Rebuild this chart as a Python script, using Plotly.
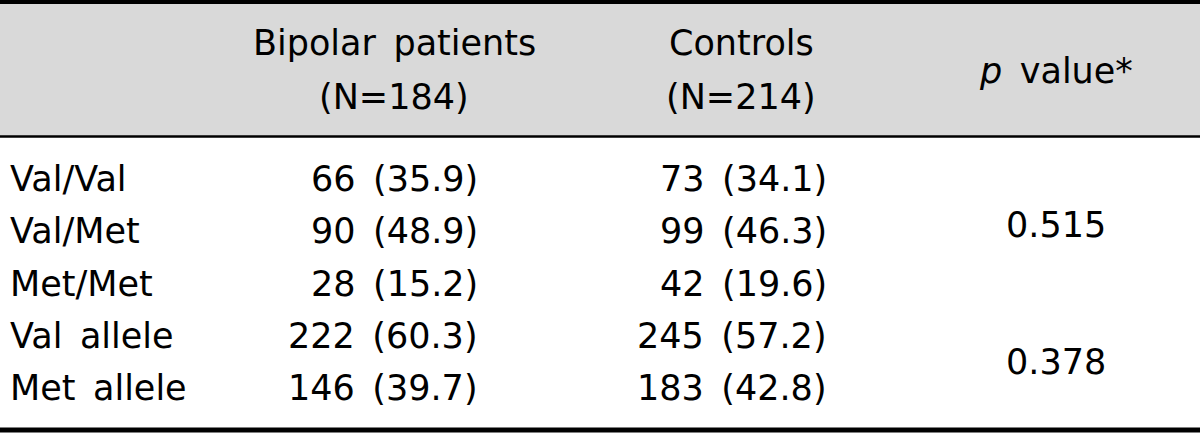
import plotly.graph_objects as go

# ---- data ----
genotypes = ["Val/Val", "Val/Met", "Met/Met", "Val allele", "Met allele"]
bipolar_n = [66, 90, 28, 222, 146]
bipolar_pct = [35.9, 48.9, 15.2, 60.3, 39.7]
control_n = [73, 99, 42, 245, 183]
control_pct = [34.1, 46.3, 19.6, 57.2, 42.8]
p_values = ["0.515", "0.378"]
p_groups = [[0, 1, 2], [3, 4]]
header_line1 = ["Bipolar patients", "Controls"]
header_line2 = ["(N=184)", "(N=214)"]
header_p = "<i>p</i> value*"

# ---- layout constants (pixels) ----
W, H = 1200, 433
FONT = "DejaVu Sans"
FS = 35
ROW0, ROWH = 179, 52.3
row_y = [ROW0 + ROWH * i for i in range(len(genotypes))]
head_x = [394, 741]
SP = "\u2002"  # wide word gap, as in the reference typesetting

fig = go.Figure()
fig.add_trace(go.Scatter(x=[0, W], y=[0, H], mode="markers", marker=dict(opacity=0),
                         hoverinfo="skip", showlegend=False))

# header background and rules
fig.add_shape(type="rect", x0=0, x1=W, y0=2, y1=136, fillcolor="#d9d9d9", line_width=0, layer="below")
fig.add_shape(type="line", x0=0, x1=W, y0=2, y1=2, line=dict(color="black", width=4))
fig.add_shape(type="line", x0=0, x1=W, y0=136.5, y1=136.5, line=dict(color="black", width=2.5))
fig.add_shape(type="line", x0=0, x1=W, y0=430, y1=430, line=dict(color="black", width=5))

def ann(x, y, text, xanchor="center"):
    fig.add_annotation(x=x, y=y, text=text.replace(" ", SP), showarrow=False, xanchor=xanchor,
                       yanchor="middle", font=dict(family=FONT, size=FS, color="black"), align="center")

# header
for hx, l1, l2 in zip(head_x, header_line1, header_line2):
    ann(hx, 43, l1)
    ann(hx, 97, l2)
ann(1056, 71, header_p)

# body
for i, g in enumerate(genotypes):
    ann(8, row_y[i], g, xanchor="left")
    ann(480, row_y[i], f"{bipolar_n[i]} ({bipolar_pct[i]:.1f})", xanchor="right")
    ann(829, row_y[i], f"{control_n[i]} ({control_pct[i]:.1f})", xanchor="right")

for pv, grp in zip(p_values, p_groups):
    yc = sum(row_y[j] for j in grp) / len(grp)
    ann(1056, yc - 6 if len(grp) == 3 else yc, pv)

fig.update_xaxes(range=[0, W], visible=False, fixedrange=True)
fig.update_yaxes(range=[H, 0], visible=False, fixedrange=True)
fig.update_layout(width=W, height=H, margin=dict(l=0, r=0, t=0, b=0),
                  plot_bgcolor="white", paper_bgcolor="white", showlegend=False)

fig.write_html("out.html", config={"displayModeBar": False},
               post_script="document.body.style.margin='0';document.body.style.overflow='hidden';")
